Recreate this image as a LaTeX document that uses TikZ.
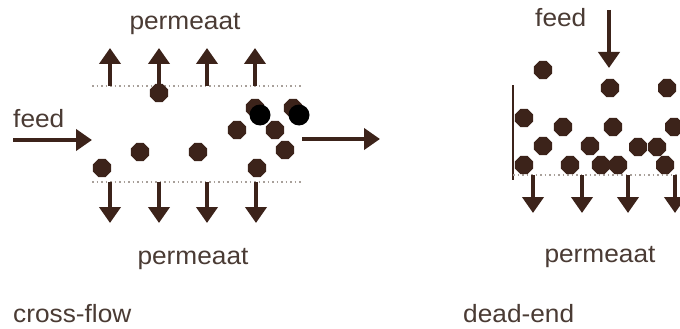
\documentclass[tikz,border=0pt]{standalone}
\usepackage{fontspec}
\setmainfont{Liberation Sans}
\usetikzlibrary{arrows.meta,shapes.geometric}
\definecolor{ink}{HTML}{3C231A}
\definecolor{txt}{HTML}{4A3B34}
\definecolor{dotc}{HTML}{A8A09A}
\tikzset{
 particle/.style={regular polygon, regular polygon sides=8, minimum size=19.5pt, inner sep=0pt, fill=ink, draw=none},
 blob/.style={circle, minimum size=21pt, inner sep=0pt, fill=black, draw=none},
 flow/.style={draw=ink, line width=4.8pt, -{Triangle[width=21pt,length=16pt]}},
 lbl/.style={text=txt, font=\fontsize{25}{29}\selectfont, inner sep=0pt, anchor=base, xscale=1.05},
 lbll/.style={lbl, anchor=base west},
 membrane/.style={draw=dotc, line width=1.2pt, dash pattern=on 1.5pt off 3pt},
 wall/.style={draw=ink, line width=2pt},
}
\begin{document}
\begin{tikzpicture}[x=1pt,y=-1pt]
\useasboundingbox (0,0) rectangle (680,329);
\clip (0,0) rectangle (680,329);
\fill[white] (0,0) rectangle (680,329);

% ---------- cross-flow ----------
\coordinate (mtl) at (92,86);  \coordinate (mtr) at (303,86);
\coordinate (mbl) at (92,182); \coordinate (mbr) at (303,182);
\draw[membrane] (mtl) -- (mtr);
\draw[membrane] (mbl) -- (mbr);

\foreach \i/\x in {1/110,2/159,3/207,4/255}{
  \coordinate (us\i) at (\x,86);  \coordinate (ue\i) at (\x,48);
  \draw[flow] (us\i) -- (ue\i);
}
\foreach \i/\x in {1/110,2/159,3/207,4/256}{
  \coordinate (ds\i) at (\x,182); \coordinate (de\i) at (\x,223);
  \draw[flow] (ds\i) -- (de\i);
}
\coordinate (fs) at (13,140); \coordinate (fe) at (92,140);
\draw[flow] (fs) -- (fe);
\coordinate (os) at (302,139); \coordinate (oe) at (380,139);
\draw[flow] (os) -- (oe);

\node[particle] (c1) at (159,93) {};
\node[particle] (c2) at (255,108) {};
\node[particle] (c3) at (293,108) {};
\node[particle] (c4) at (237,130) {};
\node[particle] (c5) at (275,130) {};
\node[particle] (c6) at (285,150) {};
\node[particle] (c7) at (140,152) {};
\node[particle] (c8) at (198,152) {};
\node[particle] (c9) at (102,168) {};
\node[particle] (c10) at (257,168) {};
\node[blob] (b1) at (260,115) {};
\node[blob] (b2) at (299,115) {};

\node[lbl] (pt) at (185,30) {permeaat};
\node[lbl] (pb) at (193,264) {permeaat};
\node[lbll] (feedA) at (13,127) {feed};
\node[lbll] (cf) at (13,322) {cross-flow};

% ---------- dead-end ----------
\coordinate (wt) at (513,85); \coordinate (wb) at (513,180);
\draw[wall] (wt) -- (wb);
\coordinate (dml) at (513,175); \coordinate (dmr) at (680,175);
\draw[membrane] (dml) -- (dmr);

\coordinate (dfs) at (609,10); \coordinate (dfe) at (609,68);
\draw[flow] (dfs) -- (dfe);
\foreach \i/\x in {1/533,2/582,3/628,4/675}{
  \coordinate (es\i) at (\x,175); \coordinate (ee\i) at (\x,213);
  \draw[flow] (es\i) -- (ee\i);
}

\node[particle] (d1) at (543,70) {};
\node[particle] (d2) at (610,88) {};
\node[particle] (d3) at (667,88) {};
\node[particle] (d4) at (524,118) {};
\node[particle] (d5) at (563,127) {};
\node[particle] (d6) at (613,127) {};
\node[particle] (d7) at (674,127) {};
\node[particle] (d8) at (543,146) {};
\node[particle] (d9) at (590,146) {};
\node[particle] (d10) at (638,147) {};
\node[particle] (d11) at (657,147) {};
\node[particle] (d12) at (524,165) {};
\node[particle] (d13) at (570,165) {};
\node[particle] (d14) at (601,165) {};
\node[particle] (d15) at (618,165) {};
\node[particle] (d16) at (665,165) {};

\node[lbll] (feedB) at (535,27) {feed};
\node[lbl] (pd) at (600,262) {permeaat};
\node[lbll] (de) at (463,322) {dead-end};
\end{tikzpicture}
\end{document}
